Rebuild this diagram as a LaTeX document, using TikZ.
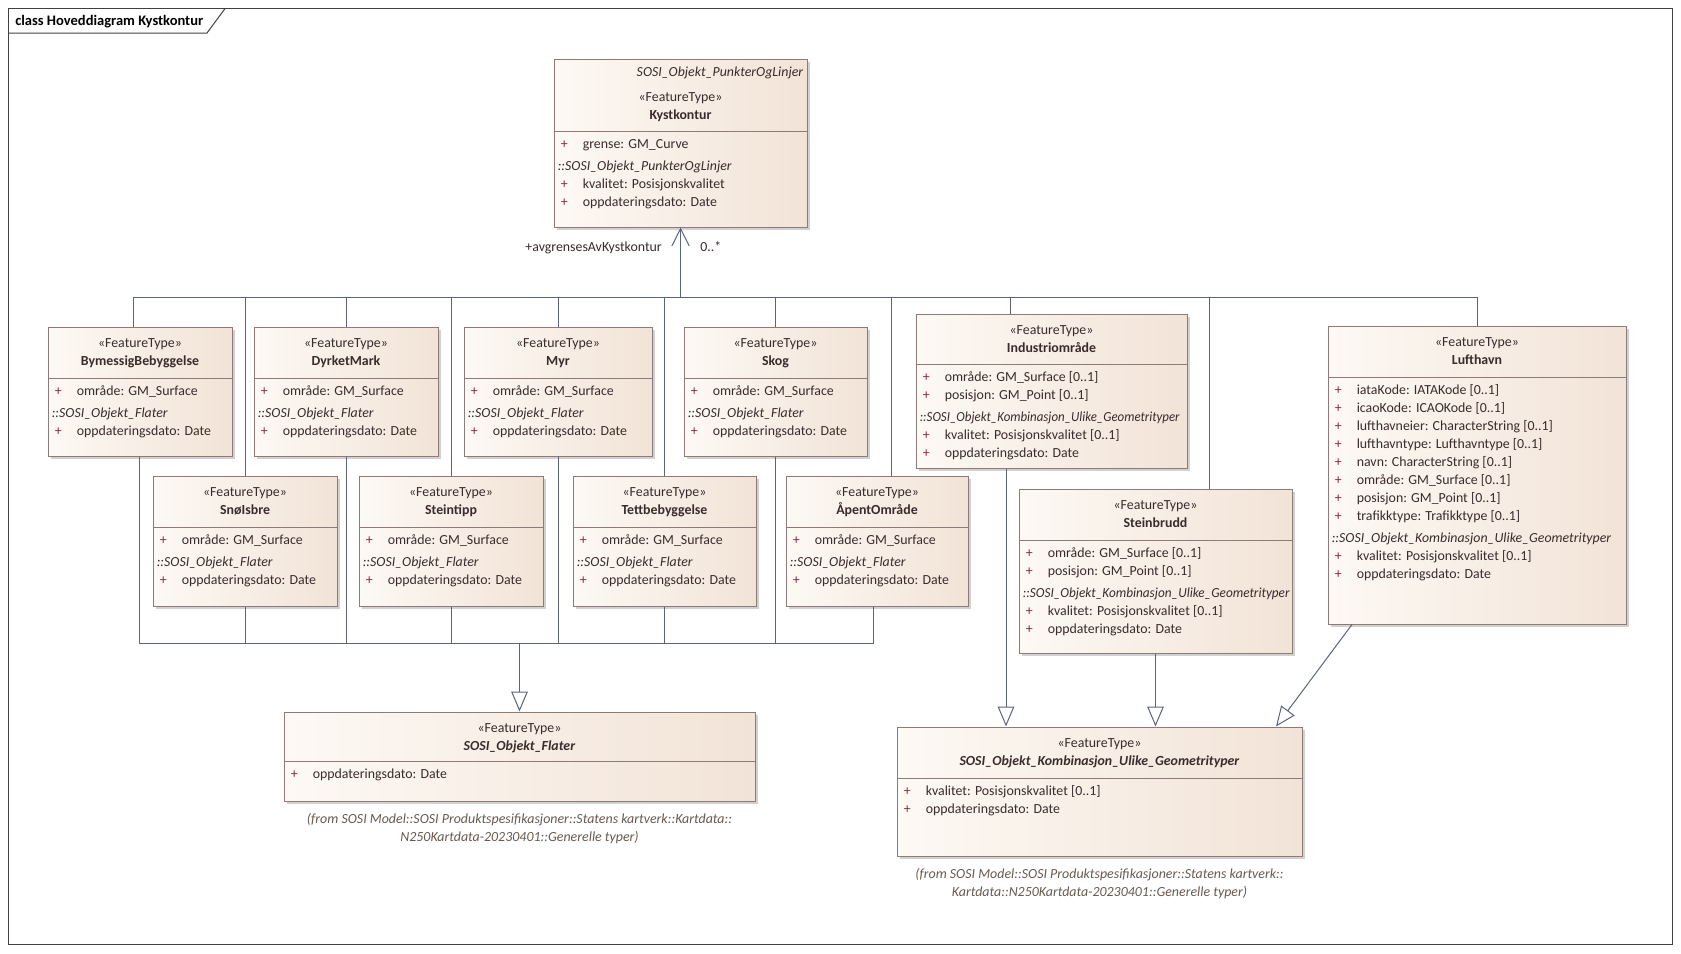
\documentclass[tikz,border=0pt]{standalone}
\usepackage{fontspec}
\setmainfont{Carlito}
\usepackage{graphicx}
\usepackage{tikz}
\usetikzlibrary{arrows.meta,fit,shadows}

\definecolor{umlfillL}{HTML}{FDF9F4}
\definecolor{umlfillR}{HTML}{F2E3D7}
\definecolor{umlborder}{HTML}{8E7A76}
\definecolor{umlline}{HTML}{5B6479}
\definecolor{umltext}{HTML}{3A2C2C}
\definecolor{umlplus}{HTML}{8A2846}
\definecolor{umlnote}{HTML}{6A5A50}

\newcommand\umlfont{\fontsize{10.4}{13.5}\selectfont}
\newcommand\notefont{\fontsize{10.45}{13.5}\selectfont}
\newcommand\attrpub{\makebox[18.75pt][l]{\hspace{2.25pt}\textcolor{umlplus}{+}}}
\newcommand\lrows[1]{\begin{tabular}[t]{@{}l@{}}#1\end{tabular}}
\newcommand\crows[1]{\begin{tabular}[t]{@{}c@{}}#1\end{tabular}}

\begin{document}
\begin{tikzpicture}[x=0.75pt,y=-0.75pt,
    cls/.style={draw=umlborder, line width=0.75pt, inner sep=0pt,
      left color=umlfillL, right color=umlfillR,
      drop shadow={shadow xshift=2.5pt, shadow yshift=-2.5pt, fill=black!40, opacity=0.45}},
    sepline/.style={draw=umlborder, line width=0.75pt},
    hdr/.style={anchor=north, inner sep=0pt, yshift=-6.3pt, font=\umlfont, text=umltext},
    attr/.style={anchor=north west, inner sep=0pt, xshift=3pt, yshift=-3.7pt, font=\umlfont, text=umltext},
    note/.style={anchor=north, inner sep=0pt, yshift=-6.5pt, font=\notefont\itshape, text=umlnote},
    lbl/.style={inner sep=0pt, font=\umlfont, text=umltext},
    link/.style={draw=umlline, line width=0.75pt},
    gen/.style={link, -{Triangle[open, length=15pt, width=12.5pt]}},
    assoc/.style={link, -{Straight Barb[length=13pt, width=13pt]}},
    frame/.style={draw=black!75, line width=0.75pt}]

  \fill[white] (0,0) rectangle (1681,953);
  \useasboundingbox (0,0) rectangle (1681,953);

  % diagram frame
  \draw[frame] (8.6,8.6) rectangle (1672,944);
  \draw[frame] (8.6,33) -- (207,33) -- (225,8.6);
  \node[anchor=base west, inner sep=0pt, font=\fontsize{10.9}{12}\selectfont\bfseries] (title) at (15,25.5) {class Hoveddiagram Kystkontur};

  % classes
  \node[cls, fit={(554,59) (807,227)}] (kyst) {};
  \node[cls, fit={(48,327) (232,456)}] (bymessig) {};
  \node[cls, fit={(254,327) (438,456)}] (dyrket) {};
  \node[cls, fit={(464,327) (652,456)}] (myr) {};
  \node[cls, fit={(684,327) (867,456)}] (skog) {};
  \node[cls, fit={(916,314) (1187,468)}] (indu) {};
  \node[cls, fit={(1328,326) (1626,624)}] (lufthavn) {};
  \node[cls, fit={(153,476) (337,606)}] (snois) {};
  \node[cls, fit={(359,476) (543,606)}] (steintipp) {};
  \node[cls, fit={(573,476) (756,606)}] (tett) {};
  \node[cls, fit={(786,476) (968,606)}] (apent) {};
  \node[cls, fit={(1019,489) (1292,653)}] (steinbrudd) {};
  \node[cls, fit={(284,712) (755,801)}] (flater) {};
  \node[cls, fit={(897,727) (1302,856)}] (kombin) {};

  \foreach \n/\s in {kyst/131, indu/364, lufthavn/377, steinbrudd/540, flater/761, kombin/778}
    \draw[sepline] (\n.west |- 0,\s) -- (\n.east |- 0,\s);

  % headers
  \node[anchor=north east, inner sep=0pt, xshift=-3pt, yshift=-4pt, font=\umlfont\itshape, text=umltext] (kyst-parent) at (kyst.north east) {\lrows{SOSI\_Objekt\_PunkterOgLinjer}};
  \node[hdr, yshift=-16.5pt] (kyst-hdr) at (kyst.north) {\crows{«FeatureType»\\\textbf{Kystkontur}}};
  \foreach \n/\t in {bymessig/BymessigBebyggelse, dyrket/DyrketMark, myr/Myr, skog/Skog,
      indu/Industriområde, lufthavn/Lufthavn, snois/SnøIsbre, steintipp/Steintipp,
      tett/Tettbebyggelse, apent/ÅpentOmråde, steinbrudd/Steinbrudd}
    \node[hdr] (\n-hdr) at (\n.north) {\crows{«FeatureType»\\\textbf{\t}}};
  \node[hdr] (flater-hdr) at (flater.north) {\crows{«FeatureType»\\\textbf{\textit{SOSI\_Objekt\_Flater}}}};
  \node[hdr] (kombin-hdr) at (kombin.north) {\crows{«FeatureType»\\\textbf{\textit{SOSI\_Objekt\_Kombinasjon\_Ulike\_Geometrityper}}}};

  % attributes
  \node[attr] (kyst-attr) at (kyst.west |- 0,131) {\lrows{\attrpub grense: GM\_Curve\\[3pt]
    \textit{::SOSI\_Objekt\_PunkterOgLinjer}\\
    \attrpub kvalitet: Posisjonskvalitet\\
    \attrpub oppdateringsdato: Date}};
  \foreach \n/\s in {bymessig/378, dyrket/378, myr/378, skog/378, snois/527, steintipp/527, tett/527, apent/527}{
    \draw[sepline] (\n.west |- 0,\s) -- (\n.east |- 0,\s);
    \node[attr] (\n-attr) at (\n.west |- 0,\s) {\lrows{\attrpub område: GM\_Surface\\[3pt]
      \textit{::SOSI\_Objekt\_Flater}\\
      \attrpub oppdateringsdato: Date}};
  }
  \node[attr] (indu-attr) at (indu.west |- 0,364) {\lrows{\attrpub område: GM\_Surface [0..1]\\
    \attrpub posisjon: GM\_Point [0..1]\\[3pt]
    \scalebox{0.93}[1]{\textit{::SOSI\_Objekt\_Kombinasjon\_Ulike\_Geometrityper}}\\
    \attrpub kvalitet: Posisjonskvalitet [0..1]\\
    \attrpub oppdateringsdato: Date}};
  \node[attr] (steinbrudd-attr) at (steinbrudd.west |- 0,540) {\lrows{\attrpub område: GM\_Surface [0..1]\\
    \attrpub posisjon: GM\_Point [0..1]\\[3pt]
    \scalebox{0.955}[1]{\textit{::SOSI\_Objekt\_Kombinasjon\_Ulike\_Geometrityper}}\\
    \attrpub kvalitet: Posisjonskvalitet [0..1]\\
    \attrpub oppdateringsdato: Date}};
  \node[attr] (lufthavn-attr) at (lufthavn.west |- 0,377) {\lrows{\attrpub iataKode: IATAKode [0..1]\\
    \attrpub icaoKode: ICAOKode [0..1]\\
    \attrpub lufthavneier: CharacterString [0..1]\\
    \attrpub lufthavntype: Lufthavntype [0..1]\\
    \attrpub navn: CharacterString [0..1]\\
    \attrpub område: GM\_Surface [0..1]\\
    \attrpub posisjon: GM\_Point [0..1]\\
    \attrpub trafikktype: Trafikktype [0..1]\\[3pt]
    \textit{::SOSI\_Objekt\_Kombinasjon\_Ulike\_Geometrityper}\\
    \attrpub kvalitet: Posisjonskvalitet [0..1]\\
    \attrpub oppdateringsdato: Date}};
  \node[attr] (flater-attr) at (flater.west |- 0,761) {\lrows{\attrpub oppdateringsdato: Date}};
  \node[attr] (kombin-attr) at (kombin.west |- 0,778) {\lrows{\attrpub kvalitet: Posisjonskvalitet [0..1]\\
    \attrpub oppdateringsdato: Date}};

  \node[note] (flater-note) at (flater.south) {\crows{(from SOSI Model::SOSI Produktspesifikasjoner::Statens kartverk::Kartdata::\\
    N250Kartdata-20230401::Generelle typer)}};
  \node[note] (kombin-note) at (kombin.south) {\crows{(from SOSI Model::SOSI Produktspesifikasjoner::Statens kartverk::\\
    Kartdata::N250Kartdata-20230401::Generelle typer)}};

  % association to Kystkontur
  \coordinate (topbus) at (kyst.south |- 0,297);
  \foreach \n in {snois, dyrket, steintipp, myr, tett, skog, lufthavn}
    \draw[link] (\n.north) |- (topbus);
  \draw[link] (bymessig.north -| 133,0) |- (topbus);
  \draw[link] (apent.north -| 891,0) |- (topbus);
  \draw[link] (indu.north -| 1010,0) |- (topbus);
  \draw[link] (steinbrudd.north -| 1209,0) |- (topbus);
  \draw[assoc] (topbus) -- (kyst.south);
  \node[lbl, anchor=base east] (role) at (662,251) {+avgrensesAvKystkontur};
  \node[lbl, anchor=base west] (mult) at (700,251) {0..*};

  % generalisations
  \coordinate (botbus) at (flater.north |- 0,643);
  \foreach \n in {snois, dyrket, steintipp, myr, tett, skog}
    \draw[link] (\n.south) |- (botbus);
  \draw[link] (bymessig.south -| 139,0) |- (botbus);
  \draw[link] (apent.south -| 873,0) |- (botbus);
  \draw[gen] (botbus) -- (flater.north);
  \draw[gen] (indu.south -| 1006,0) -- (kombin.north -| 1006,0);
  \draw[gen] (steinbrudd.south) -- (kombin.north -| steinbrudd.south);
  \draw[gen] (lufthavn.south -| 1352,0) -- (kombin.north -| 1276,0);
\end{tikzpicture}
\end{document}
